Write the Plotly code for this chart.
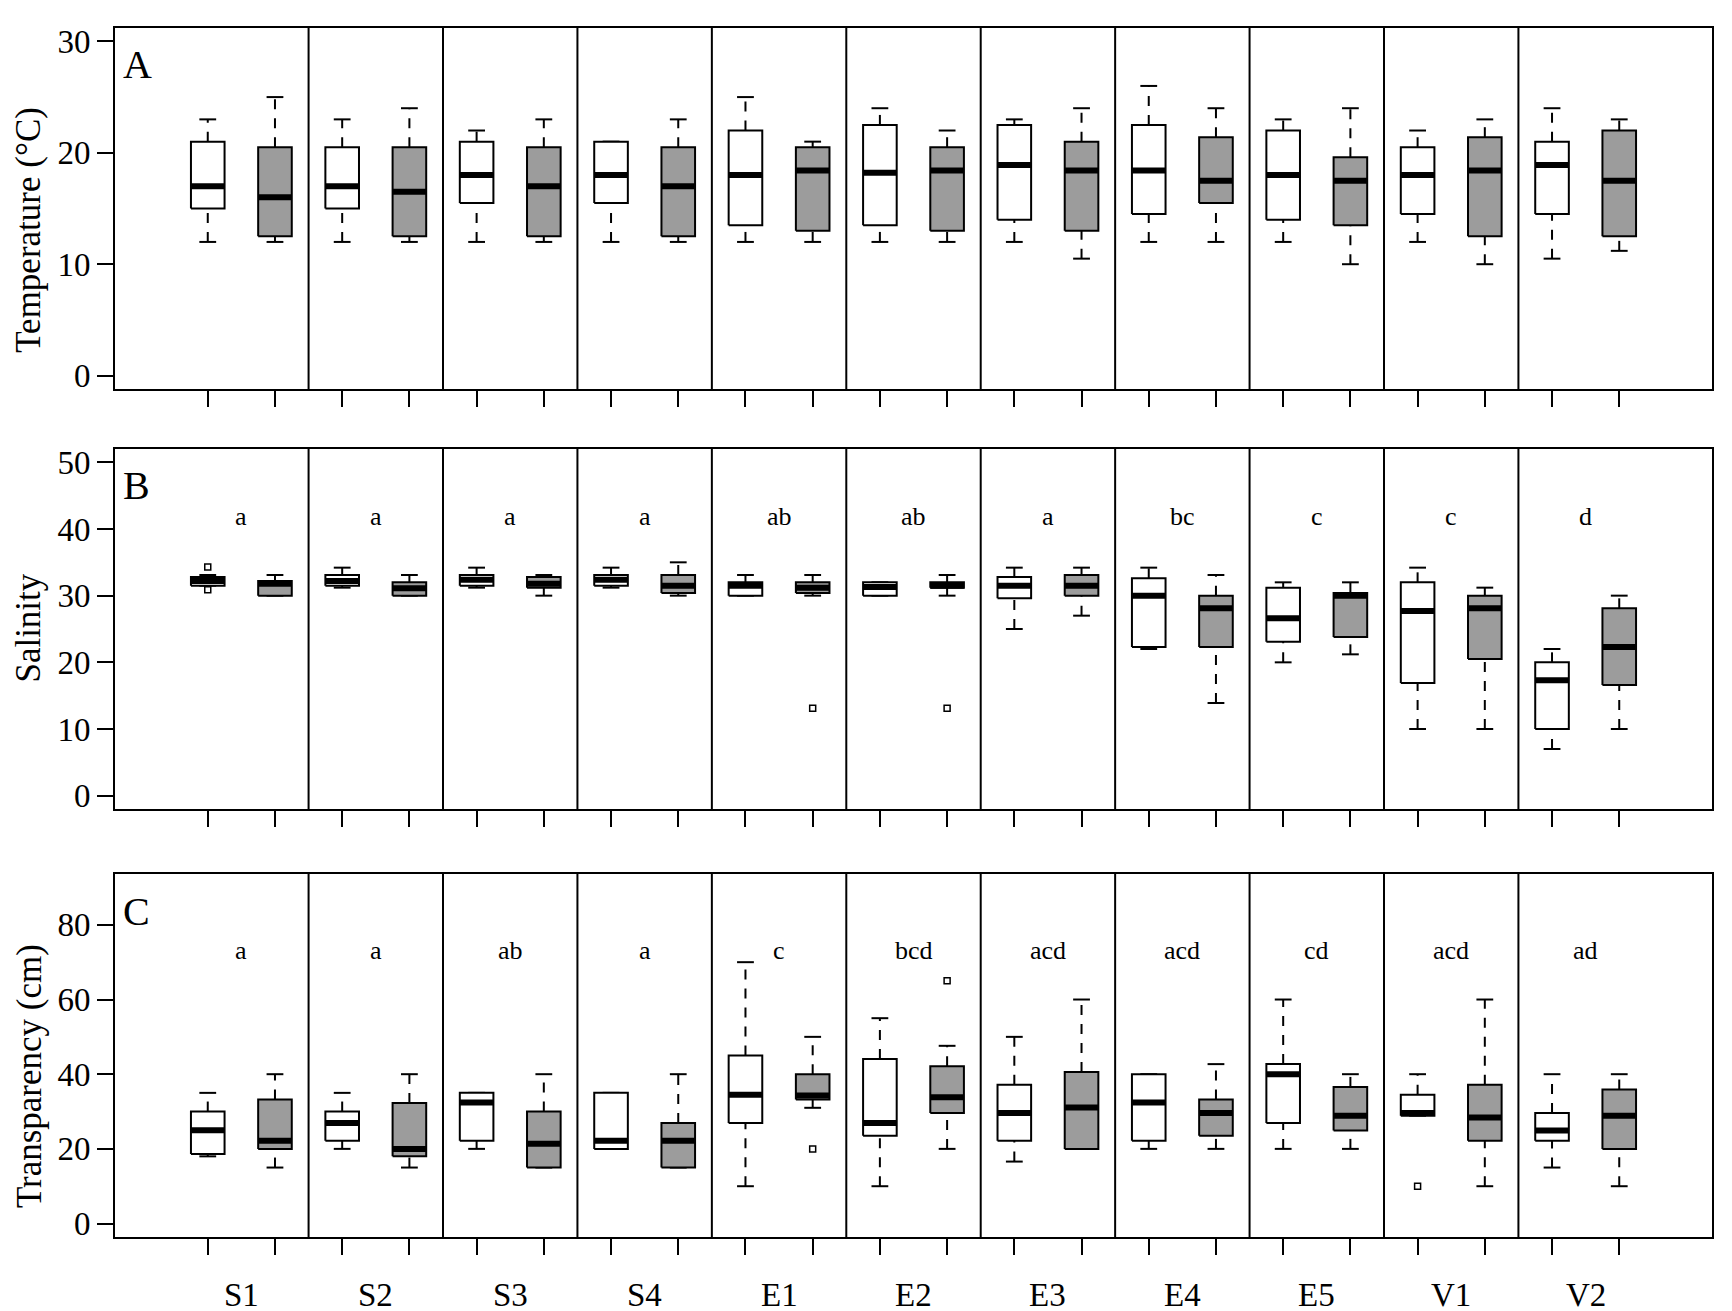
import plotly.graph_objects as go
from plotly.subplots import make_subplots

# sites, two boxes each (white then grey)
sites = ["S1", "S2", "S3", "S4", "E1", "E2", "E3", "E4", "E5", "V1", "V2"]

# temperature: low whisker, q1, median, q3, high whisker  (22 boxes)
temp_lo  = [12, 12, 12, 12, 12, 12, 12, 12, 12, 12, 12, 12, 12, 10.5, 12, 12, 12, 10, 12, 10, 10.5, 11.2]
temp_q1  = [15, 12.5, 15, 12.5, 15.5, 12.5, 15.5, 12.5, 13.5, 13, 13.5, 13, 14, 13, 14.5, 15.5, 14, 13.5, 14.5, 12.5, 14.5, 12.5]
temp_med = [17, 16, 17, 16.5, 18, 17, 18, 17, 18, 18.4, 18.2, 18.4, 18.9, 18.4, 18.4, 17.5, 18, 17.5, 18, 18.4, 18.9, 17.5]
temp_q3  = [21, 20.5, 20.5, 20.5, 21, 20.5, 21, 20.5, 22, 20.5, 22.5, 20.5, 22.5, 21, 22.5, 21.4, 22, 19.6, 20.5, 21.4, 21, 22]
temp_hi  = [23, 25, 23, 24, 22, 23, 21, 23, 25, 21, 24, 22, 23, 24, 26, 24, 23, 24, 22, 23, 24, 23]
temp_out_x = []
temp_out_y = []

# salinity
sal_lo  = [31.5, 30, 31.2, 30, 31.2, 30, 31.2, 30, 30, 30, 30, 30, 25, 27, 22, 13.9, 20, 21.2, 10, 10, 7, 10]
sal_q1  = [31.5, 30, 31.5, 30, 31.5, 31.2, 31.5, 30.4, 30, 30.4, 30, 31.2, 29.6, 30, 22.3, 22.3, 23.1, 23.8, 16.9, 20.5, 10, 16.6]
sal_med = [32.2, 31.8, 32.2, 31.1, 32.4, 31.8, 32.4, 31.5, 31.5, 31.2, 31.3, 31.5, 31.5, 31.5, 30, 28.1, 26.6, 30, 27.7, 28.1, 17.3, 22.3]
sal_q3  = [32.8, 32.2, 33.1, 32, 33.1, 32.8, 33.1, 33.1, 32, 32, 32, 32, 32.8, 33.1, 32.6, 30, 31.2, 30.4, 32, 30, 20, 28.1]
sal_hi  = [33.1, 33.1, 34.2, 33.1, 34.2, 33.1, 34.2, 35, 33.1, 33.1, 32, 33.1, 34.2, 34.2, 34.2, 33.1, 32, 32, 34.2, 31.2, 22, 30]
sal_out_x = [1, 1, 10, 12]
sal_out_y = [34.3, 30.9, 13.1, 13.1]

# transparency (cm)
tr_lo  = [18, 15, 20, 15, 20, 15, 20, 15, 10, 31, 10, 20, 16.6, 20, 20, 20, 20, 20, 28.9, 10, 15, 10]
tr_q1  = [18.6, 20, 22.2, 18, 22.2, 15, 20, 15, 26.9, 33.2, 23.5, 29.6, 22.2, 20, 22.2, 23.5, 26.9, 24.9, 28.9, 22.2, 22.2, 20]
tr_med = [25, 22.2, 26.9, 20, 32.4, 21.4, 22.2, 22.2, 34.5, 34.3, 26.9, 33.8, 29.6, 31.1, 32.4, 29.6, 40, 28.9, 29.6, 28.4, 24.9, 28.9]
tr_q3  = [30, 33.2, 30, 32.3, 35, 30, 35, 26.9, 45, 40, 44.1, 42.1, 37.2, 40.6, 40, 33.2, 42.7, 36.6, 34.5, 37.2, 29.6, 35.9]
tr_hi  = [35, 40, 35, 40, 35, 40, 35, 40, 70, 50, 55, 47.6, 50, 60, 40, 42.7, 60, 40, 40, 60, 40, 40]
tr_out_x = [10, 12, 19]
tr_out_y = [20, 65, 10]

# significance letters per site
sal_letters = ["a", "a", "a", "a", "ab", "ab", "a", "bc", "c", "c", "d"]
tr_letters = ["a", "a", "ab", "a", "c", "bcd", "acd", "acd", "cd", "acd", "ad"]

pos = list(range(1, 23))
fills = ["white", "#9c9c9c"] * 11
half = 0.25
cap = 0.125
FONT = "Liberation Serif"

fig = make_subplots(rows=3, cols=1)


def add_panel(row, lo, q1, med, q3, hi, out_x, out_y):
    # dashed whiskers
    wx, wy = [], []
    for p, a, b, c, d in zip(pos, lo, q1, q3, hi):
        wx += [p, p, None, p, p, None]
        wy += [a, b, None, c, d, None]
    fig.add_trace(go.Scatter(x=wx, y=wy, mode="lines",
                             line=dict(color="black", width=2, dash="10px,9px"),
                             hoverinfo="skip"), row=row, col=1)
    # whisker caps
    cx, cy = [], []
    for p, a, d in zip(pos, lo, hi):
        cx += [p - cap, p + cap, None, p - cap, p + cap, None]
        cy += [a, a, None, d, d, None]
    fig.add_trace(go.Scatter(x=cx, y=cy, mode="lines",
                             line=dict(color="black", width=2),
                             hoverinfo="skip"), row=row, col=1)
    # boxes
    for col in ["white", "#9c9c9c"]:
        bx, by = [], []
        for p, b, c, f in zip(pos, q1, q3, fills):
            if f != col:
                continue
            bx += [p - half, p + half, p + half, p - half, p - half, None]
            by += [b, b, c, c, b, None]
        fig.add_trace(go.Scatter(x=bx, y=by, mode="lines", fill="toself",
                                 fillcolor=col,
                                 line=dict(color="black", width=2),
                                 hoverinfo="skip"), row=row, col=1)
    # medians
    mx, my = [], []
    for p, m in zip(pos, med):
        mx += [p - half, p + half, None]
        my += [m, m, None]
    fig.add_trace(go.Scatter(x=mx, y=my, mode="lines",
                             line=dict(color="black", width=6),
                             hoverinfo="skip"), row=row, col=1)
    if out_x:
        fig.add_trace(go.Scatter(x=out_x, y=out_y, mode="markers",
                                 marker=dict(symbol="square-open", size=6, color="black",
                                             line=dict(width=1.5, color="black")),
                                 hoverinfo="skip"), row=row, col=1)


add_panel(1, temp_lo, temp_q1, temp_med, temp_q3, temp_hi, temp_out_x, temp_out_y)
add_panel(2, sal_lo, sal_q1, sal_med, sal_q3, sal_hi, sal_out_x, sal_out_y)
add_panel(3, tr_lo, tr_q1, tr_med, tr_q3, tr_hi, tr_out_x, tr_out_y)

domains = [[0.7014, 1.0], [0.354, 0.6518], [0.0, 0.3002]]
yranges = [[-1.2, 31.2], [-2, 52], [-3.6, 93.6]]
yticks = [[0, 10, 20, 30], [0, 10, 20, 30, 40, 50], [0, 20, 40, 60, 80]]
ytitles = ["Temperature (°C)", "Salinity", "Transparency (cm)"]
ytitle_y = [0.833, 0.504, 0.133]
panel_tags = ["A", "B", "C"]

axis_common = dict(showline=True, linewidth=2, linecolor="black", mirror=True,
                   ticks="outside", ticklen=16, tickwidth=2, tickcolor="black",
                   showgrid=False, zeroline=False)

for i in range(3):
    n = "" if i == 0 else str(i + 1)
    fig.layout["xaxis" + n].update(domain=[0, 1], range=[-0.38, 23.38],
                                   tickvals=pos, showticklabels=False, **axis_common)
    fig.layout["yaxis" + n].update(domain=domains[i], range=yranges[i], tickvals=yticks[i],
                                   tickfont=dict(family=FONT, size=33, color="black"),
                                   **axis_common)
    # site separators
    for k in range(1, len(sites)):
        fig.add_shape(type="line", x0=2 * k + 0.5, x1=2 * k + 0.5, y0=0, y1=1,
                      xref="x" + n, yref="y" + n + " domain",
                      line=dict(color="black", width=2))
    fig.add_annotation(text=ytitles[i], textangle=-90, xref="paper", yref="paper",
                       x=-0.0539, y=ytitle_y[i], showarrow=False,
                       xanchor="center", yanchor="middle",
                       font=dict(family=FONT, size=35, color="black"))
    fig.add_annotation(text=panel_tags[i], xref="x" + n + " domain", yref="y" + n + " domain",
                       x=0.0035, y=0.898, showarrow=False, xanchor="left", yanchor="middle",
                       font=dict(family=FONT, size=40, color="black"))

site_mid = [2 * k + 1.5 for k in range(len(sites))]
for s, m in zip(sal_letters, site_mid):
    fig.add_annotation(text=s, x=m, y=41.8, xref="x2", yref="y2", showarrow=False,
                       font=dict(family=FONT, size=26, color="black"))
for s, m in zip(tr_letters, site_mid):
    fig.add_annotation(text=s, x=m, y=73, xref="x3", yref="y3", showarrow=False,
                       font=dict(family=FONT, size=26, color="black"))
for s, m in zip(sites, site_mid):
    fig.add_annotation(text=s, x=m, y=-0.16, xref="x3", yref="y3 domain", showarrow=False,
                       yanchor="middle", font=dict(family=FONT, size=33, color="black"))

fig.update_layout(width=1732, height=1311, showlegend=False,
                  paper_bgcolor="white", plot_bgcolor="white",
                  margin=dict(l=107, r=28, t=20, b=82),
                  font=dict(family=FONT, color="black"))

fig.write_html("out.html")
